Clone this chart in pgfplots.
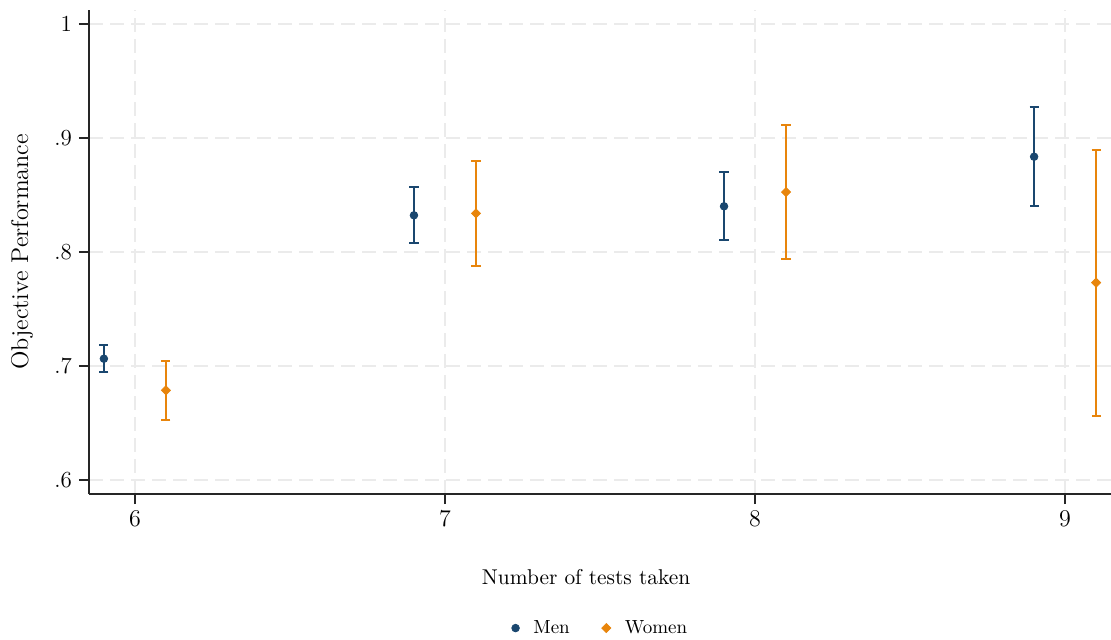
\documentclass[border=0pt]{standalone}
\usepackage{pgfplots}
\pgfplotsset{compat=1.18}
\usepackage{pgfplotstable}
\definecolor{menc}{HTML}{1A476F}
\definecolor{womc}{HTML}{E8850C}
\definecolor{gridc}{HTML}{EBEBEB}
\pgfplotstableread{
x y ep em
5.9 0.7064 0.0123 0.0117
6.9 0.8322 0.0248 0.0243
7.9 0.8401 0.0301 0.0298
8.9 0.8836 0.0436 0.0432
}\men
\pgfplotstableread{
x y ep em
6.1 0.6787 0.0259 0.0261
7.1 0.8339 0.0459 0.0462
8.1 0.8526 0.0585 0.0585
9.1 0.7731 0.1164 0.1167
}\women
\begin{document}
\begin{tikzpicture}
\useasboundingbox (-44.5pt,-72.5pt) rectangle (511pt,247pt);
\begin{axis}[
  at={(0,0)}, anchor=south west,
  scale only axis, width=511pt, height=242pt,
  xmin=5.852, xmax=9.148, ymin=0.5877, ymax=1.0123,
  axis x line*=bottom, axis y line*=left,
  axis line style={line width=0.8pt, color=black!85, -},
  xtick={6,7,8,9}, ytick={0.6,0.7,0.8,0.9,1},
  yticklabels={.6,.7,.8,.9,1},
  tick align=outside, major tick length=5pt,
  tick style={line width=0.8pt, color=black!85},
  ticklabel style={font=\fontsize{11.5}{13}\selectfont},
  grid=major,
  major grid style={gridc, line width=1.1pt, dash pattern=on 7pt off 3.5pt},
  xlabel={Number of tests taken},
  ylabel={Objective Performance},
  x label style={at={(axis description cs:0.4863,-0.1715)}, anchor=center, font=\fontsize{10.7}{12}\selectfont},
  y label style={at={(axis description cs:-0.0656,0.5)}, anchor=center, rotate=0, font=\fontsize{12.1}{14}\selectfont},
  legend style={at={(axis description cs:0.5014,-0.277)}, anchor=center, draw=none, fill=none,
    font=\fontsize{9.5}{11}\selectfont, legend columns=2,
    /tikz/every odd column/.append style={column sep=5pt},
    /tikz/every even column/.append style={column sep=14pt}},
  legend cell align=left,
  clip=false,
]
\addplot[only marks, mark=*, mark size=1.9pt, color=menc,
  error bars/.cd, y dir=both, y explicit,
  error bar style={line width=1pt, color=menc},
  error mark options={rotate=90, mark size=2.3pt, line width=1pt, color=menc}]
  table[x=x, y=y, y error plus=ep, y error minus=em]{\men};
\addlegendentry{Men}
\addplot[only marks, mark=square*, mark size=1.6pt, mark options={rotate=45}, color=womc,
  error bars/.cd, y dir=both, y explicit,
  error bar style={line width=1pt, color=womc},
  error mark options={rotate=90, mark size=2.3pt, line width=1pt, color=womc}]
  table[x=x, y=y, y error plus=ep, y error minus=em]{\women};
\addlegendentry{Women}
\end{axis}
\end{tikzpicture}
\end{document}
